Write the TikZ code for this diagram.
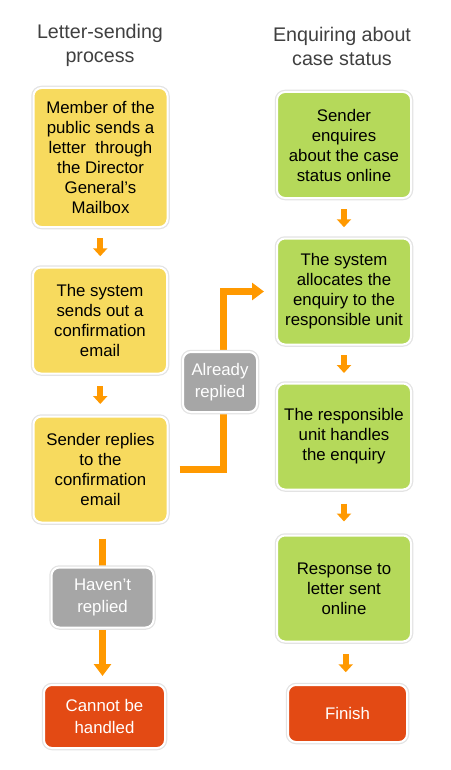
\documentclass[tikz,border=0pt]{standalone}
\usepackage{fontspec}
\setmainfont{Liberation Sans}
\usetikzlibrary{arrows.meta,calc,backgrounds}
\definecolor{cardyellow}{HTML}{F7DA5E}
\definecolor{cardgreen}{HTML}{B5D95A}
\definecolor{endred}{HTML}{E34A14}
\definecolor{taggray}{HTML}{A6A6A6}
\definecolor{flowcolor}{HTML}{FF9900}
\definecolor{titlegray}{HTML}{404040}
\begin{document}
\begin{tikzpicture}[
  x=1pt, y=-1pt,
  every node/.style = {shape=rectangle, rounded corners=8pt, align=center, inner sep=0pt,
    font=\fontsize{16.8}{20}\selectfont},
  title/.style = {font=\fontsize{19.7}{24}\selectfont, text=titlegray},
  card/.style = {fill=#1, draw=white, line width=2pt,
    preaction={draw=black!11, line width=4.5pt}, minimum width=134pt, minimum height=106pt},
  tag/.style = {card=taggray, text=white, minimum width=74pt, minimum height=60pt,
    font=\fontsize{16.8}{21.5}\selectfont},
  endbox/.style = {card=endred, text=white, minimum height=60pt,
    font=\fontsize{16.8}{21.5}\selectfont},
  flow/.style = {draw=flowcolor, line width=7pt, -{Triangle[width=17pt,length=12pt]}},
  nextstep/.style = {draw=flowcolor, line width=6pt, -{Triangle[width=14pt,length=8pt]}}
]
  \useasboundingbox (0,0) rectangle (450,770);
  \node[title] (left title) at (100,45) {Letter-sending\\process};
  \node[title] (right title) at (342,46) {Enquiring about\\case status};

  \node[card=cardyellow, minimum height=139pt] (L1) at (100.5,157.5)
    {Member of the\\public sends a\\letter~ through\\the Director\\General’s\\Mailbox};
  \node[card=cardyellow] (L2) at (100,320.5) {The system\\sends out a\\confirmation\\email};
  \node[card=cardyellow] (L3) at (100.5,469.5) {Sender replies\\to the\\confirmation\\email};
  \node[tag, minimum width=102pt] (no) at (102.5,597.5) {Haven’t\\replied};
  \node[endbox, minimum width=121pt, minimum height=63pt] (fail) at (104.5,716.5) {Cannot be\\handled};

  \node[tag] (yes) at (220,382) {Already\\replied};

  \node[card=cardgreen] (R1) at (344,145) {Sender\\enquires\\about the case\\status online};
  \node[card=cardgreen] (R2) at (344,291.5) {The system\\allocates the\\enquiry to the\\responsible unit};
  \node[card=cardgreen] (R3) at (344,436.5) {The responsible\\unit handles\\the enquiry};
  \node[card=cardgreen] (R4) at (344,588.5) {Response to\\letter sent\\online};
  \node[endbox, minimum width=119pt, minimum height=57pt] (fin) at (347.5,713.5) {Finish};

  \foreach \a/\b in {L1/L2, L2/L3, R1/R2, R2/R3, R3/R4, R4/fin}
    \draw[nextstep] ($(\a.south)!0.5!(\b.north)+(0,-9)$) -- ++(0,18);

  \begin{scope}[on background layer]
    \draw[flow] ([xshift=11pt]L3.east) -| ([xshift=3pt]yes.center) |- ([xshift=-12pt]R2.west);
    \draw[flow] ($(no.center |- L3.south)+(0,15)$) -- ($(no.center |- fail.north)+(0,-8)$);
  \end{scope}
\end{tikzpicture}
\end{document}
